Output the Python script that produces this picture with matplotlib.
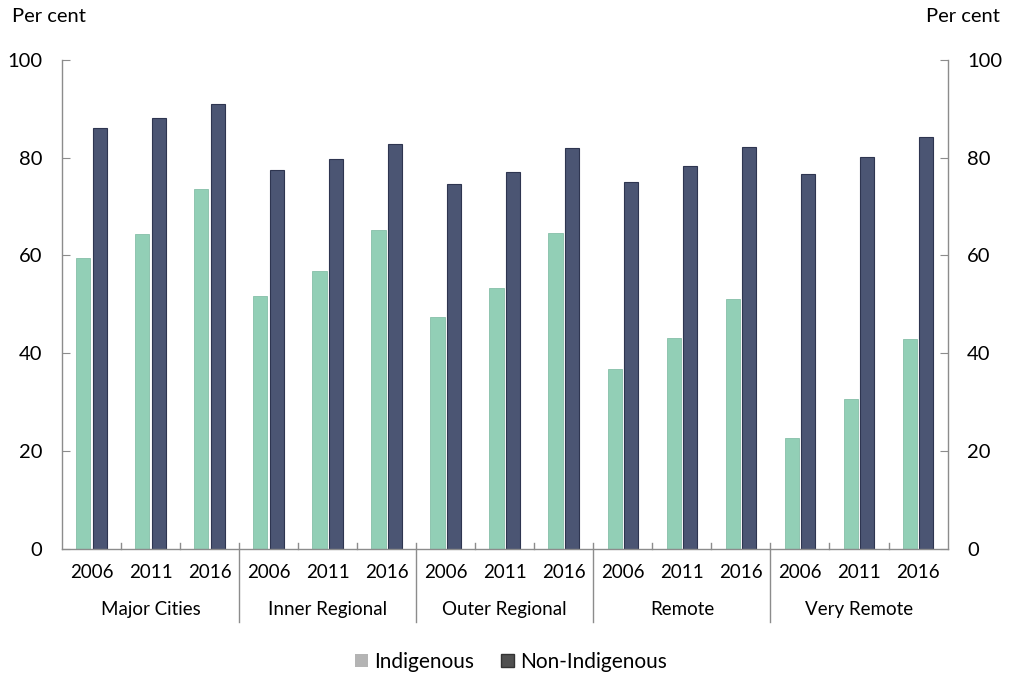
import numpy as np
import matplotlib.pyplot as plt
from matplotlib.patches import Patch

plt.rcParams['font.family'] = ['Lato', 'DejaVu Sans']

regions = ['Major Cities', 'Inner Regional', 'Outer Regional', 'Remote', 'Very Remote']
years = ['2006', '2011', '2016']
indigenous = [59.4, 64.3, 73.7, 51.7, 56.9, 65.2, 47.5, 53.3, 64.5,
              36.7, 43.2, 51.1, 22.6, 30.7, 42.8]
non_indigenous = [86.1, 88.1, 90.9, 77.5, 79.7, 82.9, 74.6, 77.1, 82.0,
                  75.1, 78.4, 82.2, 76.7, 80.1, 84.2]

green = '#92cfb6'
navy = '#4b5573'
axis_grey = '#8c8c8c'

fig = plt.figure(figsize=(10.12, 6.74), dpi=100)
ax = fig.add_axes([0.0613, 0.186, 0.875, 0.725])

x = np.arange(len(indigenous))
w = 0.24
ax.bar(x - 0.14, indigenous, w, color=green, edgecolor='#86bfa8', linewidth=0.6)
ax.bar(x + 0.14, non_indigenous, w, color=navy, edgecolor='#2e3550', linewidth=0.8)

ax.set_xlim(-0.5, len(x) - 0.5)
ax.set_ylim(0, 100)
ax.set_yticks([0, 20, 40, 60, 80, 100])
ax.tick_params(axis='y', direction='in', length=6, color=axis_grey, labelsize=14.5,
               pad=14, left=True, right=True, labelleft=True, labelright=True)
ax.spines['top'].set_visible(False)
for s in ['left', 'right', 'bottom']:
    ax.spines[s].set_color(axis_grey)
    ax.spines[s].set_linewidth(1.0)

# year labels
ax.set_xticks(x)
ax.set_xticklabels(years * len(regions), fontsize=13.5)
ax.tick_params(axis='x', length=0, pad=11)

# small ticks between years, separators between regions
trans = ax.get_xaxis_transform()
for i in range(1, len(x)):
    b = i - 0.5
    if i % 3 == 0:
        ax.plot([b, b], [0.012, -0.15], transform=trans, color=axis_grey, lw=1.0, clip_on=False)
    else:
        ax.plot([b, b], [0, 0.012], transform=trans, color=axis_grey, lw=1.0, clip_on=False)

for k, r in enumerate(regions):
    ax.text(3 * k + 1, -0.125, r, transform=trans, ha='center', va='center', fontsize=13.5)

fig.text(0.012, 0.975, 'Per cent', ha='left', va='center', fontsize=14.5)
fig.text(0.988, 0.975, 'Per cent', ha='right', va='center', fontsize=14.5)

handles = [Patch(facecolor='#b4b4b4', edgecolor='none', label='Indigenous'),
           Patch(facecolor='#505050', edgecolor='#333333', label='Non-Indigenous')]
fig.legend(handles=handles, loc='center', bbox_to_anchor=(0.505, 0.018), ncol=2,
           frameon=False, fontsize=15, handlelength=0.6, handleheight=0.6,
           handletextpad=0.3, columnspacing=1.3)

fig.savefig('out.png', dpi=100)
